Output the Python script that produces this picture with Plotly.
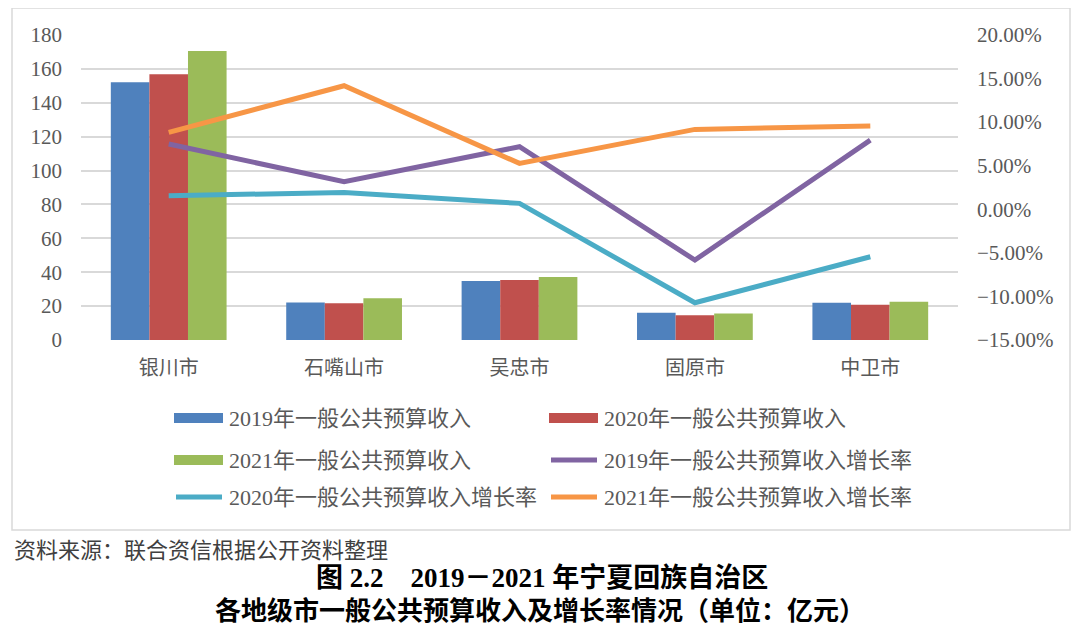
import plotly.graph_objects as go

# 数据
cities = ['银川市', '石嘴山市', '吴忠市', '固原市', '中卫市']

rev_2019 = [152.1, 22.2, 34.8, 16.1, 22.0]
rev_2020 = [156.8, 21.7, 35.4, 14.6, 20.8]
rev_2021 = [170.6, 24.6, 37.2, 15.7, 22.6]

growth_2019 = [7.49, 3.16, 7.18, -5.83, 7.94]
growth_2020 = [1.55, 1.94, 0.68, -10.73, -5.45]
growth_2021 = [8.83, 14.18, 5.27, 9.17, 9.55]

bar_names = ['2019年一般公共预算收入', '2020年一般公共预算收入', '2021年一般公共预算收入']
line_names = ['2019年一般公共预算收入增长率', '2020年一般公共预算收入增长率', '2021年一般公共预算收入增长率']

bar_colors = ['#4F81BD', '#C0504D', '#9BBB59']
line_colors = ['#8064A2', '#4BACC6', '#F79646']

FONT = 'Liberation Serif, Noto Sans CJK SC, serif'
GRAY = '#595959'

# page body has an 8px margin, so shrink the figure and shift all pixel positions
OFF = 8
W, H = 1080 - OFF, 634 - OFF
L, R, T, B = 81 - OFF, 958 - OFF, 35 - OFF, 340 - OFF  # plot area in pixels


def px(x):
    return (x - OFF - L) / (R - L)


def py(y):
    return (B - (y - OFF)) / (B - T)


fig = go.Figure()

for name, vals, c in zip(bar_names, [rev_2019, rev_2020, rev_2021], bar_colors):
    fig.add_trace(go.Bar(x=cities, y=vals, name=name, marker=dict(color=c, line=dict(width=0)),
                         showlegend=False))

for name, vals, c in zip(line_names, [growth_2019, growth_2020, growth_2021], line_colors):
    fig.add_trace(go.Scatter(x=cities, y=vals, name=name, mode='lines', yaxis='y2',
                             line=dict(color=c, width=5), showlegend=False))

shapes = []
annotations = []

# outer frame
shapes.append(dict(type='rect', xref='paper', yref='paper',
                   x0=px(12), x1=px(1070), y0=py(530), y1=py(8),
                   line=dict(color='#D9D9D9', width=1.5), fillcolor='rgba(0,0,0,0)', layer='below'))

# custom legend
legend_items = [
    (bar_names[0], bar_colors[0], 'bar', 174, 418),
    (bar_names[1], bar_colors[1], 'bar', 549, 418),
    (bar_names[2], bar_colors[2], 'bar', 174, 460),
    (line_names[0], line_colors[0], 'line', 549, 460),
    (line_names[1], line_colors[1], 'line', 174, 497),
    (line_names[2], line_colors[2], 'line', 549, 497),
]
for name, c, kind, x0, y0 in legend_items:
    if kind == 'bar':
        shapes.append(dict(type='rect', xref='paper', yref='paper',
                           x0=px(x0), x1=px(x0 + 49), y0=py(y0 + 5), y1=py(y0 - 5),
                           line=dict(width=0), fillcolor=c))
    else:
        shapes.append(dict(type='line', xref='paper', yref='paper',
                           x0=px(x0 + 2), x1=px(x0 + 48), y0=py(y0), y1=py(y0),
                           line=dict(color=c, width=5)))
    annotations.append(dict(text=name, xref='paper', yref='paper', x=px(x0 + 53), y=py(y0),
                            xanchor='left', yanchor='middle', showarrow=False,
                            font=dict(family=FONT, size=22, color=GRAY)))

# source and caption
annotations.append(dict(text='资料来源：联合资信根据公开资料整理', xref='paper', yref='paper',
                        x=px(12), y=py(548), xanchor='left', yanchor='middle', showarrow=False,
                        font=dict(family='Noto Sans CJK SC', size=22, color='#404040')))
annotations.append(dict(text='<b>图 2.2　2019－2021 年宁夏回族自治区</b>', xref='paper', yref='paper',
                        x=px(542), y=py(578), xanchor='center', yanchor='middle', showarrow=False,
                        font=dict(family=FONT, size=27, color='#000000')))
annotations.append(dict(text='<b>各地级市一般公共预算收入及增长率情况（单位：亿元）</b>', xref='paper',
                        yref='paper', x=px(540), y=py(611), xanchor='center', yanchor='middle',
                        showarrow=False, font=dict(family=FONT, size=26, color='#000000')))

fig.update_layout(
    width=W, height=H,
    margin=dict(l=L, r=W - R, t=T, b=H - B),
    paper_bgcolor='white', plot_bgcolor='white',
    barmode='group', bargap=0.34, bargroupgap=0,
    font=dict(family=FONT, color=GRAY),
    xaxis=dict(showgrid=False, showline=False, ticks='', ticklabelstandoff=14,
               tickfont=dict(size=20, color=GRAY)),
    yaxis=dict(range=[0, 180], dtick=20, showgrid=True, gridcolor='#D9D9D9', gridwidth=1.5,
               zeroline=False, showline=False, ticks='', ticklabelstandoff=18,
               tickfont=dict(size=21, color=GRAY)),
    yaxis2=dict(range=[-15, 20], dtick=5, overlaying='y', side='right', showgrid=False,
                zeroline=False, showline=False, ticks='', tickformat='.2f', ticksuffix='%',
                ticklabelstandoff=18, tickfont=dict(size=21, color=GRAY)),
    shapes=shapes,
    annotations=annotations,
    showlegend=False,
)

fig.write_html('out.html')
